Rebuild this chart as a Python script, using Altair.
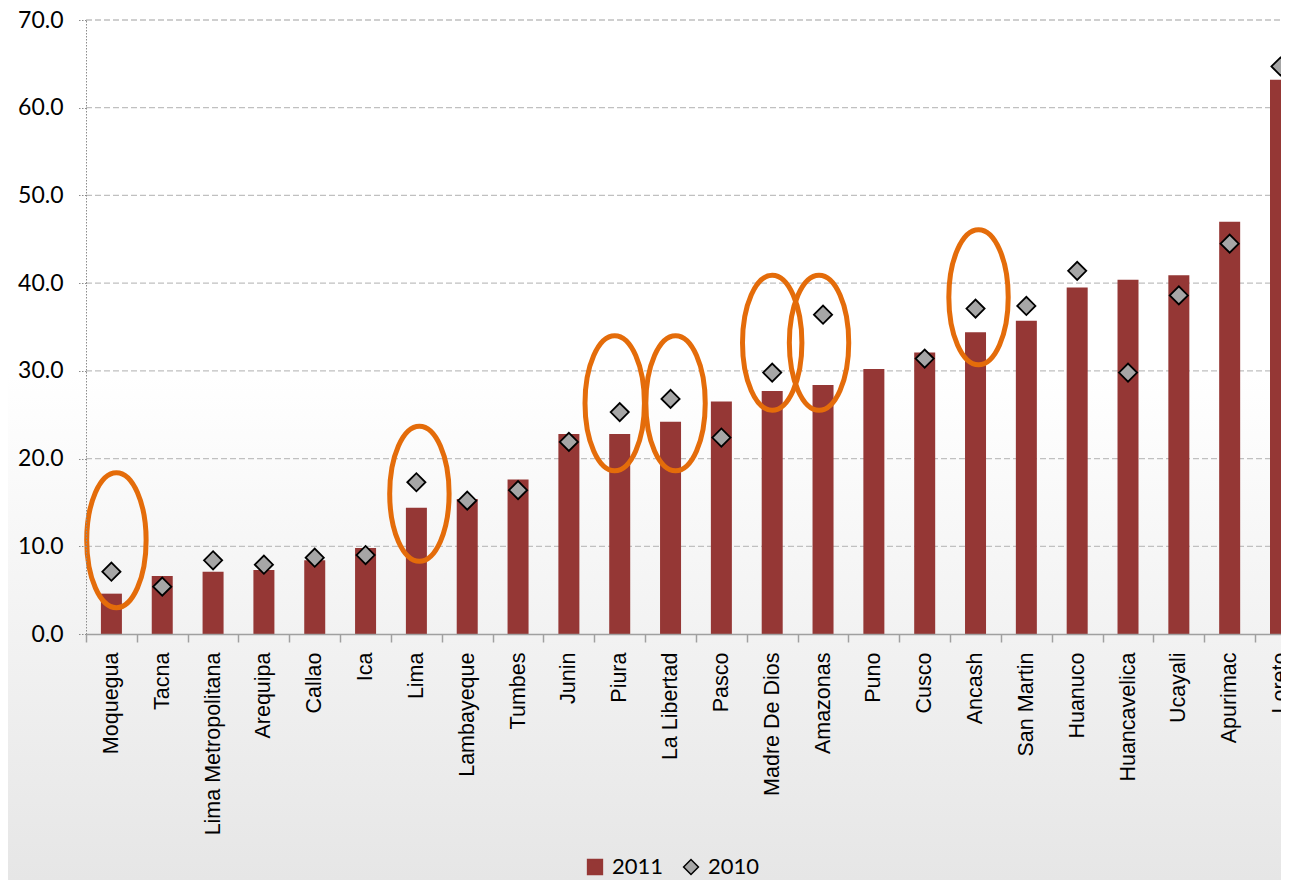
import altair as alt
import pandas as pd

# ---------------- data ----------------
regions = ["Moquegua", "Tacna", "Lima Metropolitana", "Arequipa", "Callao", "Ica",
           "Lima", "Lambayeque", "Tumbes", "Junin", "Piura", "La Libertad", "Pasco",
           "Madre De Dios", "Amazonas", "Puno", "Cusco", "Ancash", "San Martin",
           "Huanuco", "Huancavelica", "Ucayali", "Apurimac", "Loreto"]
v2011 = [4.6, 6.6, 7.1, 7.3, 8.4, 9.8, 14.4, 15.4, 17.6, 22.8, 22.8, 24.2, 26.5,
         27.7, 28.4, 30.2, 32.1, 34.4, 35.7, 39.5, 40.4, 40.9, 47.0, 63.2]
v2010 = [7.1, 5.4, 8.4, 7.9, 8.7, 9.0, 17.3, 15.2, 16.4, 21.9, 25.3, 26.8, 22.4,
         29.8, 36.4, None, 31.4, 37.1, 37.4, 41.4, 29.8, 38.6, 44.5, 64.7]

circled = ["Moquegua", "Lima", "Piura", "La Libertad", "Madre De Dios", "Amazonas", "Ancash"]
circle_center = [10.7, 16.0, 26.3, 26.3, 33.2, 33.2, 38.4]
circle_dx = [5, 3, -5, 5, 0, -4, 3]

y_ticks = [0, 10, 20, 30, 40, 50, 60, 70]
series_names = ["2011", "2010"]

# ---------------- layout ----------------
W = 1195
H = 614
STEP = 50.83

bars_df = pd.DataFrame({"region": regions, "value": v2011, "series": "2011"})
pts_df = pd.DataFrame({"region": regions, "value": v2010, "series": "2010"}).dropna()
ell_df = pd.DataFrame({"region": circled, "value": circle_center, "dx": circle_dx})
grid_df = pd.DataFrame({"value": y_ticks[1:]})

xscale = alt.Scale(domain=regions, range=[0, STEP * len(regions)],
                   paddingInner=0, paddingOuter=0)
yscale = alt.Scale(domain=[0, 70], nice=False)

xaxis = alt.Axis(title=None, labelAngle=270, labelFont="Liberation Sans", labelFontSize=21.5,
                 labelColor="black", labelPadding=10, tickBand="extent", tickSize=8,
                 tickColor="#a0a0a0", tickWidth=1.5, domainColor="#a0a0a0", domainWidth=1.5,
                 grid=False, labelOverlap=False, labelLimit=400, zindex=2)
yaxis = alt.Axis(title=None, values=y_ticks, format=".1f", labelFont="Lato", labelFontSize=23,
                 labelColor="black", labelPadding=15, tickSize=8, tickColor="#8c8c8c",
                 tickDash=[1.5, 1.5], domainColor="#8c8c8c", domainDash=[1.5, 1.5],
                 domainWidth=1, grid=False, zindex=1)

fill_scale = alt.Scale(domain=series_names, range=["#953735", "#a6a6a6"])
shape_scale = alt.Scale(domain=series_names, range=["square", "diamond"])
stroke_scale = alt.Scale(domain=series_names, range=["#953735", "#000000"])

gradient = alt.Gradient(
    gradient="linear", x1=0, x2=0, y1=0, y2=1,
    stops=[alt.GradientStop(color="#ffffff", offset=0),
           alt.GradientStop(color="#ffffff", offset=0.42),
           alt.GradientStop(color="#e6e6e6", offset=1)])

bg = alt.Chart(pd.DataFrame({"a": [0]})).mark_rect(fill=gradient).encode(
    x=alt.value(-78), x2=alt.value(W), y=alt.value(-12), y2=alt.value(860))

grid = alt.Chart(grid_df).mark_rule(color="#c0c0c0", strokeDash=[6, 3], strokeWidth=1.3).encode(
    y=alt.Y("value:Q", scale=yscale, axis=yaxis),
    x=alt.value(0), x2=alt.value(W),
)

bars = alt.Chart(bars_df).mark_bar(size=21).encode(
    x=alt.X("region:N", sort=regions, scale=xscale, axis=xaxis),
    y=alt.Y("value:Q"),
    fill=alt.Fill("series:N", scale=fill_scale, title=None),
)

pts = alt.Chart(pts_df).mark_point(filled=True, size=330, strokeWidth=1.8, opacity=1).encode(
    x=alt.X("region:N", sort=regions),
    y=alt.Y("value:Q"),
    fill=alt.Fill("series:N", scale=fill_scale, title=None),
    shape=alt.Shape("series:N", scale=shape_scale, title=None),
    stroke=alt.Stroke("series:N", scale=stroke_scale, title=None),
)

ellipse_path = "M-0.44,0A0.44,1,0,1,1,0.44,0A0.44,1,0,1,1,-0.44,0Z"
ell_layers = []
for d in sorted(set(circle_dx)):
    ell_layers.append(
        alt.Chart(ell_df).transform_filter(alt.datum.dx == d).mark_point(
            shape=ellipse_path, size=18225, filled=False, stroke="#e46c0a",
            strokeWidth=5, opacity=1, xOffset=d).encode(
            x=alt.X("region:N", sort=regions),
            y=alt.Y("value:Q"),
        )
    )

chart = alt.layer(bg, grid, bars, pts, *ell_layers).properties(
    width=W, height=H,
    autosize=alt.AutoSizeParams(type="none"),
    padding={"left": 78, "top": 12, "right": 0, "bottom": 246},
).configure_view(stroke=None).configure_legend(
    orient="none", legendX=498, legendY=836, direction="horizontal",
    labelFont="Lato", labelFontSize=22, labelColor="black", symbolSize=220,
    symbolStrokeWidth=1.5, symbolOpacity=1, labelOffset=6, columnPadding=16, padding=0,
)

chart.save("out.html", embed_options={"renderer": "svg", "actions": False})
